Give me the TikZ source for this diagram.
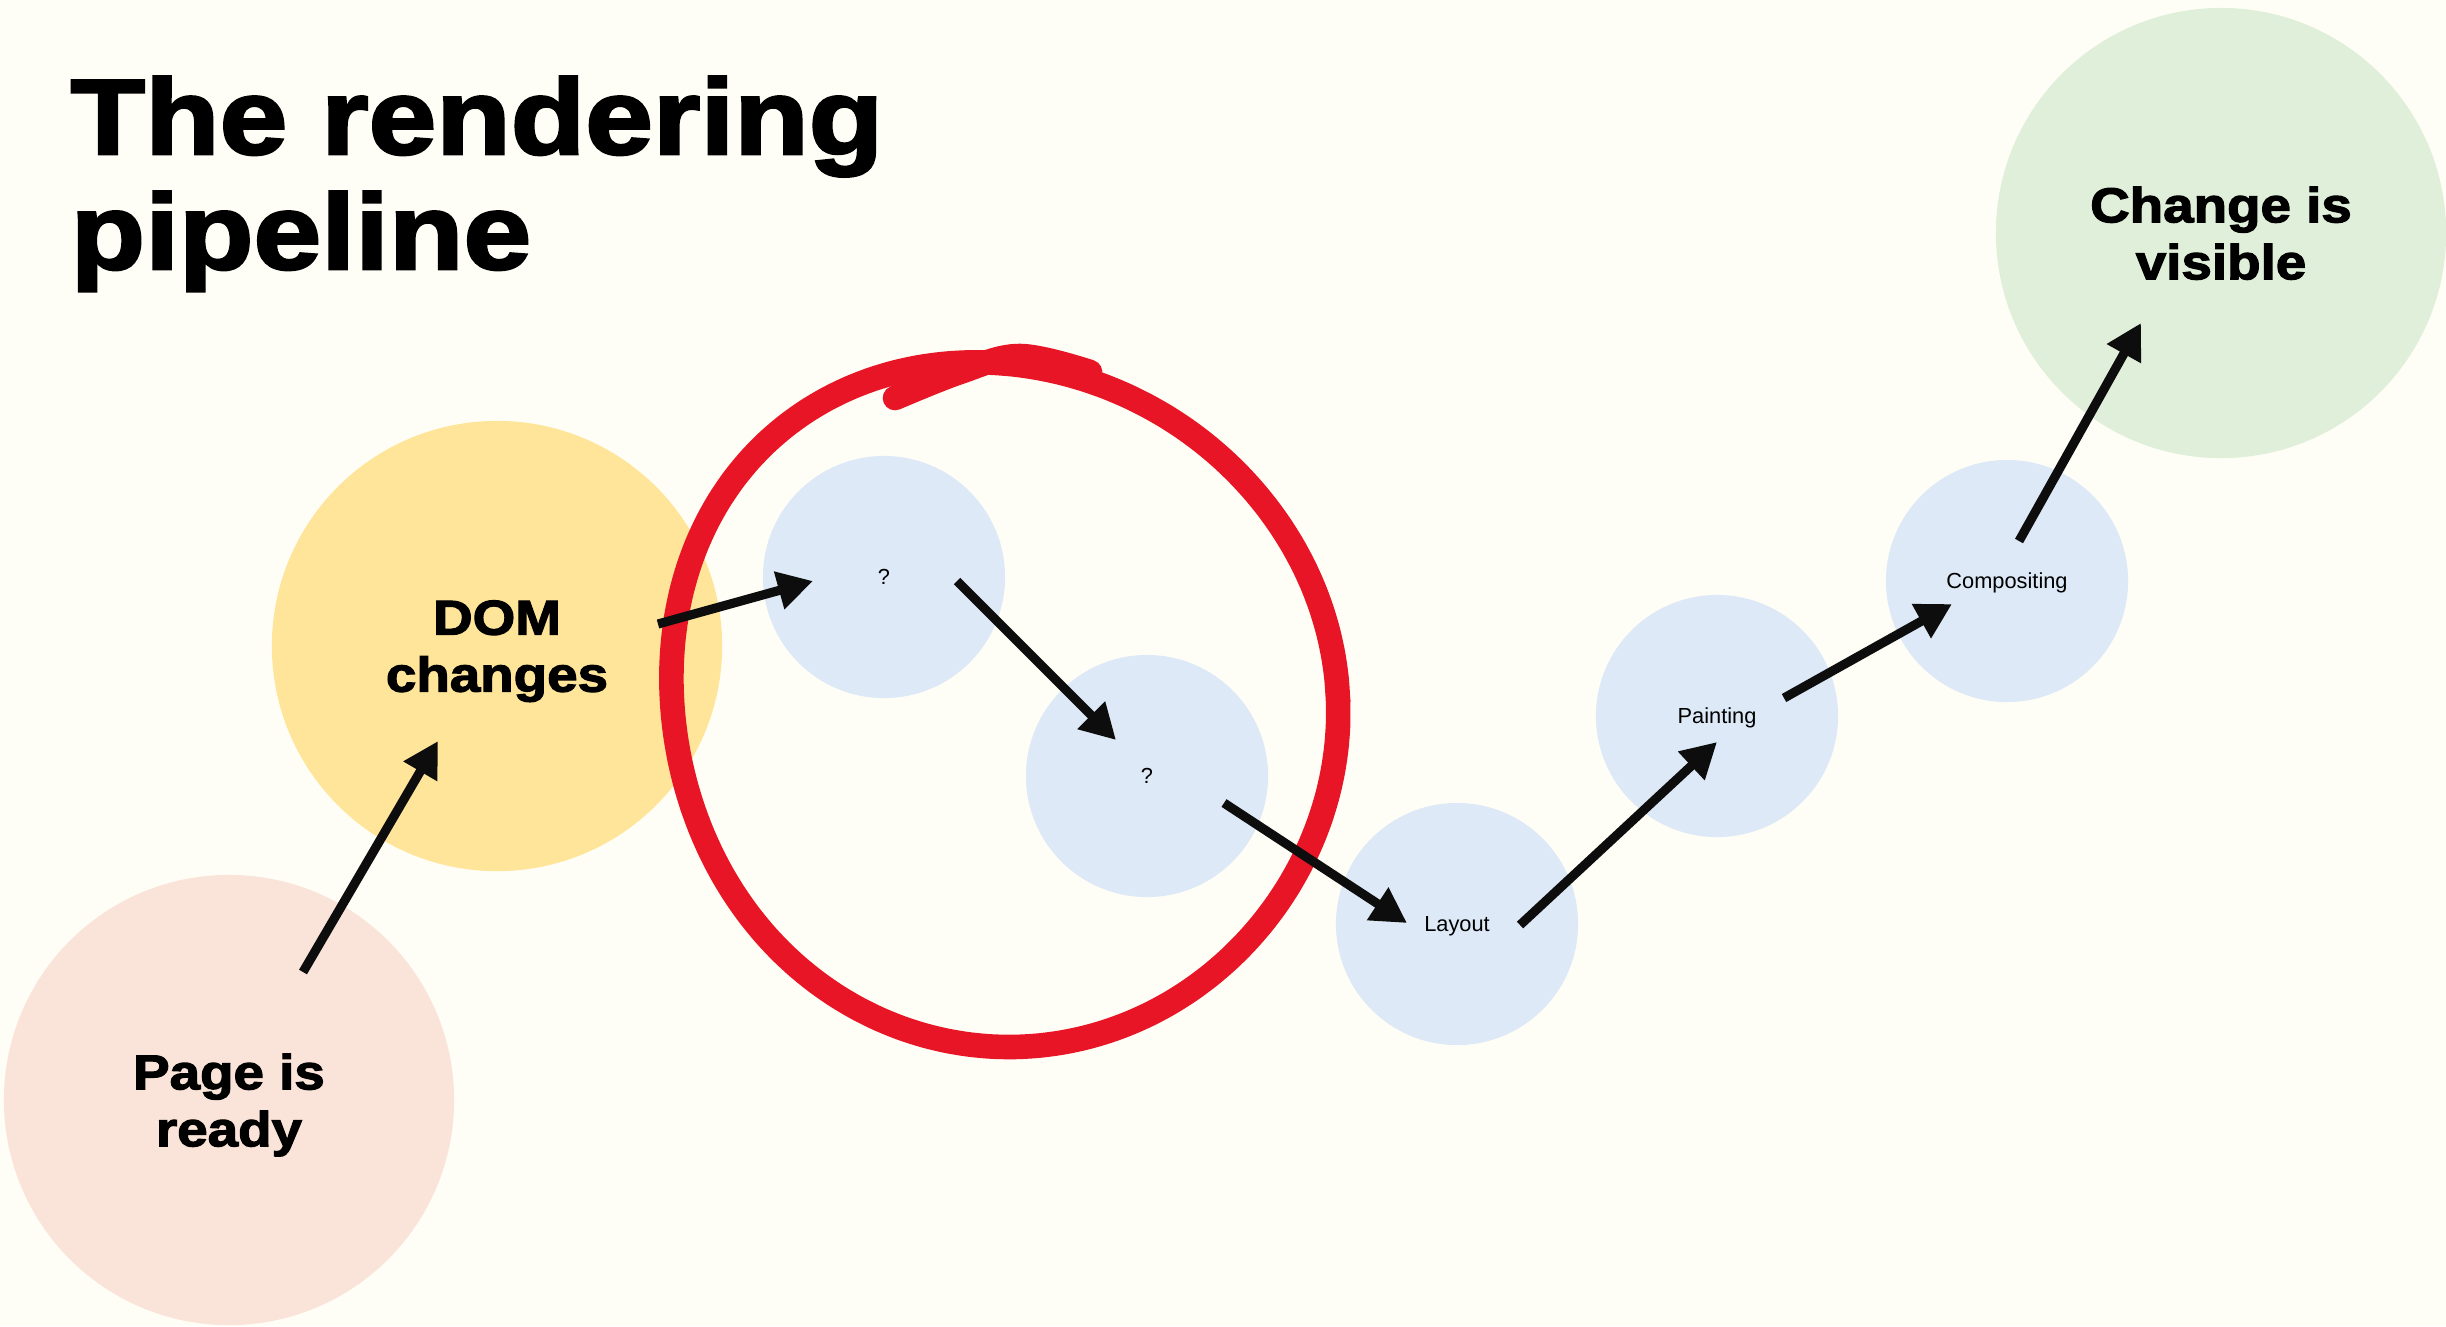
\documentclass[tikz,border=0pt]{standalone}
\usepackage{fontspec}
\setmainfont{Liberation Sans}
\newfontfamily\heavy{Liberation Sans}[FakeBold=2.5,FakeStretch=1.12]
\newfontfamily\heavytitle{Liberation Sans}[FakeBold=2.5,FakeStretch=1.14]
\usetikzlibrary{arrows.meta}
\definecolor{bg}{HTML}{FFFEF6}
\definecolor{pagec}{HTML}{FAE3D9}
\definecolor{domc}{HTML}{FFE599}
\definecolor{stepc}{HTML}{DDE9F6}
\definecolor{visc}{HTML}{E0EFDA}
\definecolor{ringred}{HTML}{E71526}
\definecolor{arrowblack}{HTML}{0D0D0D}
\begin{document}
\begin{tikzpicture}[x=0.01cm,y=-0.01cm,
  bigc/.style={circle, minimum size=4.5cm, inner sep=0pt, align=center,
    text depth=0pt, font=\heavy\bfseries\fontsize{13.9}{16.2}\selectfont},
  smallc/.style={circle, minimum size=2.42cm, inner sep=0pt, fill=stepc,
    text depth=0pt, font=\fontsize{6.2}{7.5}\selectfont},
  titletext/.style={anchor=base west, inner sep=0pt,
    font=\heavytitle\bfseries\fontsize{30.4}{32.7}\selectfont},
  arr/.style={line width=2.6pt, draw=arrowblack, fill=arrowblack,
    -{Triangle[length=10pt,width=10.5pt]}},
  ring/.style={draw=ringred, line width=7pt, line cap=round, line join=round}]
\fill[bg] (0,0) rectangle (2446,1326);
\useasboundingbox (0,0) rectangle (2446,1326);

\node[titletext] (title1) at (70,154) {The rendering};
\node[titletext] (title2) at (70,269) {pipeline};

\node[bigc, fill=pagec] (page) at (229,1100) {Page is\\ready};
\node[bigc, fill=domc] (dom) at (497,646) {DOM\\changes};
\node[bigc, fill=visc] (vis) at (2221,233) {Change is\\visible};
\node[smallc] (q1) at (884,577) {?};
\node[smallc] (q2) at (1147,776) {?};
\node[smallc] (layout) at (1457,924) {Layout};
\node[smallc] (paint) at (1717,716) {Painting};
\node[smallc] (comp) at (2007,581) {Compositing};

% hand-drawn red ring
\draw[ring] plot[domain=0:360, samples=90, smooth cycle, variable=\t]
  ({1009 + 332*cos(\t)*(1 + 0.06*max(0,cos(\t-225))^4 - 0.035*max(0,cos(\t-315))^4)},
   {701 + (340.5 + 5.5*sin(\t))*sin(\t)*(1 + 0.06*max(0,cos(\t-225))^4 - 0.035*max(0,cos(\t-315))^4)});
\draw[ring] plot[smooth, tension=0.6] coordinates {
  (895,398) (960,372) (1020,356) (1090,372)};

% connectors
\coordinate (t1) at (303,972);  \coordinate (h1) at (438,741);
\coordinate (t2) at (658,624);  \coordinate (h2) at (813,581);
\coordinate (t3) at (957,581);  \coordinate (h3) at (1116,740);
\coordinate (t4) at (1224,803); \coordinate (h4) at (1407,923);
\coordinate (t5) at (1520,925); \coordinate (h5) at (1717,742);
\coordinate (t6) at (1784,698); \coordinate (h6) at (1952,604);
\coordinate (t7) at (2019,541); \coordinate (h7) at (2141,323);
\draw[arr] (t1) -- (h1);
\draw[arr] (t2) -- (h2);
\draw[arr] (t3) -- (h3);
\draw[arr] (t4) -- (h4);
\draw[arr] (t5) -- (h5);
\draw[arr] (t6) -- (h6);
\draw[arr] (t7) -- (h7);
\end{tikzpicture}
\end{document}
